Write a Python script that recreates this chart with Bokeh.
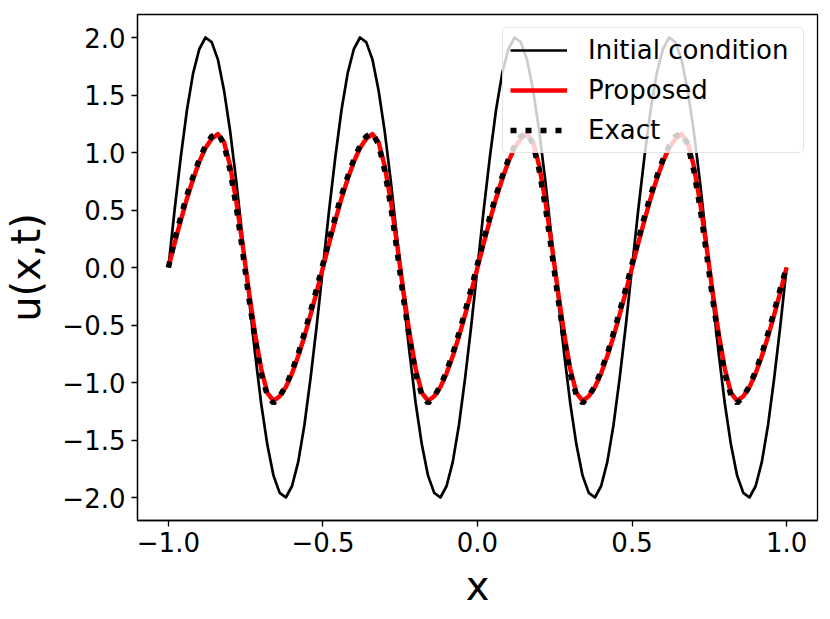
from bokeh.plotting import figure
from bokeh.models import FixedTicker, Range1d, Legend, LegendItem
from bokeh.embed import file_html
from bokeh.resources import INLINE

x = [-1.00, -0.98, -0.96, -0.94, -0.92, -0.90, -0.88, -0.86, -0.84, -0.82,
     -0.80, -0.78, -0.76, -0.74, -0.72, -0.70, -0.68, -0.66, -0.64, -0.62,
     -0.60, -0.58, -0.56, -0.54, -0.52, -0.50, -0.48, -0.46, -0.44, -0.42,
     -0.40, -0.38, -0.36, -0.34, -0.32, -0.30, -0.28, -0.26, -0.24, -0.22,
     -0.20, -0.18, -0.16, -0.14, -0.12, -0.10, -0.08, -0.06, -0.04, -0.02,
     0.00, 0.02, 0.04, 0.06, 0.08, 0.10, 0.12, 0.14, 0.16, 0.18,
     0.20, 0.22, 0.24, 0.26, 0.28, 0.30, 0.32, 0.34, 0.36, 0.38,
     0.40, 0.42, 0.44, 0.46, 0.48, 0.50, 0.52, 0.54, 0.56, 0.58,
     0.60, 0.62, 0.64, 0.66, 0.68, 0.70, 0.72, 0.74, 0.76, 0.78,
     0.80, 0.82, 0.84, 0.86, 0.88, 0.90, 0.92, 0.94, 0.96, 0.98, 1.00]

initial = [0.00, 0.50, 0.96, 1.37, 1.69, 1.90, 2.00, 1.96, 1.81, 1.54,
           1.18, 0.74, 0.25, -0.25, -0.74, -1.18, -1.54, -1.81, -1.96, -2.00,
           -1.90, -1.69, -1.37, -0.96, -0.50, 0.00, 0.50, 0.96, 1.37, 1.69,
           1.90, 2.00, 1.96, 1.81, 1.54, 1.18, 0.74, 0.25, -0.25, -0.74,
           -1.18, -1.54, -1.81, -1.96, -2.00, -1.90, -1.69, -1.37, -0.96, -0.50,
           0.00, 0.50, 0.96, 1.37, 1.69, 1.90, 2.00, 1.96, 1.81, 1.54,
           1.18, 0.74, 0.25, -0.25, -0.74, -1.18, -1.54, -1.81, -1.96, -2.00,
           -1.90, -1.69, -1.37, -0.96, -0.50, 0.00, 0.50, 0.96, 1.37, 1.69,
           1.90, 2.00, 1.96, 1.81, 1.54, 1.18, 0.74, 0.25, -0.25, -0.74,
           -1.18, -1.54, -1.81, -1.96, -2.00, -1.90, -1.69, -1.37, -0.96, -0.50, 0.00]

proposed = [0.00, 0.21, 0.41, 0.60, 0.77, 0.92, 1.04, 1.12, 1.16, 1.09,
            0.88, 0.57, 0.20, -0.20, -0.57, -0.88, -1.09, -1.16, -1.12, -1.04,
            -0.92, -0.77, -0.60, -0.41, -0.21, 0.00, 0.21, 0.41, 0.60, 0.77,
            0.92, 1.04, 1.12, 1.16, 1.09, 0.88, 0.57, 0.20, -0.20, -0.57,
            -0.88, -1.09, -1.16, -1.12, -1.04, -0.92, -0.77, -0.60, -0.41, -0.21,
            0.00, 0.21, 0.41, 0.60, 0.77, 0.92, 1.04, 1.12, 1.16, 1.09,
            0.88, 0.57, 0.20, -0.20, -0.57, -0.88, -1.09, -1.16, -1.12, -1.04,
            -0.92, -0.77, -0.60, -0.41, -0.21, 0.00, 0.21, 0.41, 0.60, 0.77,
            0.92, 1.04, 1.12, 1.16, 1.09, 0.88, 0.57, 0.20, -0.20, -0.57,
            -0.88, -1.09, -1.16, -1.12, -1.04, -0.92, -0.77, -0.60, -0.41, -0.21, 0.00]

exact = [0.00, 0.24, 0.44, 0.63, 0.79, 0.94, 1.06, 1.14, 1.17, 1.07,
         0.84, 0.52, 0.14, -0.26, -0.62, -0.92, -1.11, -1.18, -1.12, -1.03,
         -0.90, -0.75, -0.57, -0.38, -0.18, 0.03, 0.24, 0.44, 0.63, 0.79,
         0.94, 1.06, 1.14, 1.17, 1.07, 0.84, 0.52, 0.14, -0.26, -0.62,
         -0.92, -1.11, -1.18, -1.12, -1.03, -0.90, -0.75, -0.57, -0.38, -0.18,
         0.03, 0.24, 0.44, 0.63, 0.79, 0.94, 1.06, 1.14, 1.17, 1.07,
         0.84, 0.52, 0.14, -0.26, -0.62, -0.92, -1.11, -1.18, -1.12, -1.03,
         -0.90, -0.75, -0.57, -0.38, -0.18, 0.03, 0.24, 0.44, 0.63, 0.79,
         0.94, 1.06, 1.14, 1.17, 1.07, 0.84, 0.52, 0.14, -0.26, -0.62,
         -0.92, -1.11, -1.18, -1.12, -1.03, -0.90, -0.75, -0.57, -0.38, -0.18, 0.00]

x_ticks = [-1.0, -0.5, 0.0, 0.5, 1.0]
x_tick_labels = ["\u22121.0", "\u22120.5", "0.0", "0.5", "1.0"]
y_ticks = [-2.0, -1.5, -1.0, -0.5, 0.0, 0.5, 1.0, 1.5, 2.0]
y_tick_labels = ["\u22122.0", "\u22121.5", "\u22121.0", "\u22120.5", "0.0",
                 "0.5", "1.0", "1.5", "2.0"]

FONT = "DejaVu Sans"

p = figure(width=830, height=619, output_backend="svg", toolbar_location=None,
           x_range=Range1d(-1.1, 1.1), y_range=Range1d(-2.2, 2.2),
           min_border_left=137, min_border_right=13, min_border_top=14,
           min_border_bottom=99)
p.grid.visible = False
p.background_fill_color = "white"
p.border_fill_color = "white"
p.outline_line_color = "black"
p.outline_line_width = 1.3
p.outline_line_alpha = 1.0

p.xaxis.ticker = FixedTicker(ticks=x_ticks)
p.xaxis.major_label_overrides = dict(zip(x_ticks, x_tick_labels))
p.yaxis.ticker = FixedTicker(ticks=y_ticks)
p.yaxis.major_label_overrides = dict(zip(y_ticks, y_tick_labels))

for ax in (p.xaxis[0], p.yaxis[0]):
    ax.minor_tick_line_color = None
    ax.major_tick_in = 0
    ax.major_tick_out = 6
    ax.major_tick_line_width = 1.3
    ax.major_tick_line_color = "black"
    ax.axis_line_width = 1.3
    ax.axis_line_color = "black"
    ax.major_label_text_font = FONT
    ax.major_label_text_font_size = "26px"
    ax.major_label_text_color = "black"
    ax.axis_label_text_font = FONT
    ax.axis_label_text_font_style = "normal"
    ax.axis_label_text_font_size = "40px"
    ax.axis_label_text_color = "black"

p.xaxis.axis_label = "x"
p.yaxis.axis_label = "u(x,t)"
p.xaxis.major_label_standoff = 5
p.yaxis.major_label_standoff = 6
p.xaxis.axis_label_standoff = 8
p.yaxis.axis_label_standoff = 10

r0 = p.line(x, initial, line_color="black", line_width=2.7, line_join="round")
r1 = p.line(x, proposed, line_color="red", line_width=4.5, line_join="round")
r2 = p.line(x, exact, line_color="black", line_width=5.5, line_dash="6 9",
            line_cap="butt")

legend = Legend(items=[LegendItem(label="Initial condition", renderers=[r0]),
                       LegendItem(label="Proposed", renderers=[r1]),
                       LegendItem(label="Exact", renderers=[r2])],
                location="top_right")
legend.margin = 13
legend.padding = 7
legend.spacing = 10
legend.glyph_width = 57
legend.glyph_height = 28
legend.label_height = 28
legend.label_width = 208
legend.label_standoff = 21
legend.label_text_font = FONT
legend.label_text_font_size = "26px"
legend.label_text_color = "black"
legend.background_fill_color = "white"
legend.background_fill_alpha = 0.8
legend.border_line_color = "#cccccc"
legend.border_line_width = 1.3
if "border_radius" in Legend.properties():
    legend.border_radius = 5
p.add_layout(legend)

open("out.html", "w").write(file_html(p, INLINE))
